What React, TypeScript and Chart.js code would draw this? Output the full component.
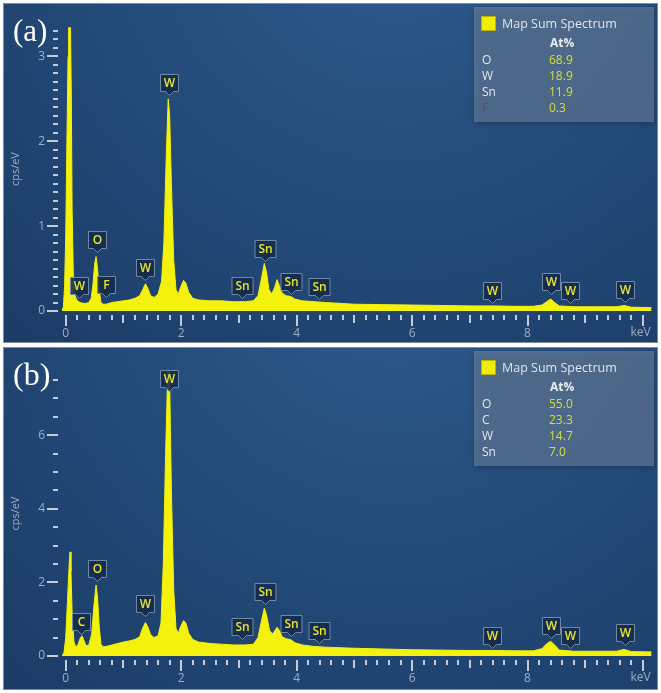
import React, { useEffect, useRef } from 'react';
import { Chart, registerables } from 'chart.js';

Chart.register(...registerables);

// ---------- data ----------
const energyA = [-0.065, -0.04, -0.02, 0.0, 0.02, 0.04, 0.05, 0.08, 0.095, 0.11, 0.13, 0.16, 0.2, 0.25, 0.3, 0.35, 0.4, 0.44, 0.47, 0.5, 0.525, 0.55, 0.58, 0.61, 0.65, 0.7, 0.8, 0.9, 1.0, 1.1, 1.2, 1.28, 1.34, 1.38, 1.42, 1.47, 1.53, 1.6, 1.66, 1.7, 1.74, 1.775, 1.8, 1.83, 1.87, 1.91, 1.95, 1.99, 2.04, 2.08, 2.13, 2.2, 2.3, 2.5, 2.7, 2.9, 3.1, 3.25, 3.33, 3.39, 3.44, 3.48, 3.52, 3.57, 3.62, 3.66, 3.7, 3.75, 3.82, 3.9, 3.97, 4.1, 4.3, 4.5, 5.0, 5.5, 6.0, 6.5, 7.0, 7.4, 7.8, 8.1, 8.25, 8.33, 8.4, 8.47, 8.55, 8.8, 9.2, 9.55, 9.67, 9.8, 10.15];
const countsA = [0, 0.05, 0.3, 0.9, 2.0, 3.0, 3.5, 3.5, 2.6, 1.2, 0.45, 0.18, 0.12, 0.1, 0.09, 0.09, 0.1, 0.15, 0.3, 0.55, 0.64, 0.5, 0.25, 0.1, 0.08, 0.08, 0.1, 0.11, 0.12, 0.13, 0.15, 0.18, 0.26, 0.32, 0.27, 0.18, 0.16, 0.2, 0.35, 0.8, 1.8, 2.5, 2.3, 1.5, 0.6, 0.25, 0.2, 0.28, 0.36, 0.33, 0.22, 0.15, 0.13, 0.12, 0.12, 0.11, 0.11, 0.12, 0.18, 0.38, 0.56, 0.45, 0.25, 0.2, 0.28, 0.37, 0.3, 0.21, 0.18, 0.17, 0.14, 0.12, 0.11, 0.1, 0.08, 0.075, 0.07, 0.065, 0.06, 0.06, 0.055, 0.055, 0.07, 0.11, 0.14, 0.1, 0.06, 0.05, 0.05, 0.05, 0.065, 0.045, 0.04];

const energyB = [-0.065, -0.03, 0.0, 0.03, 0.06, 0.075, 0.09, 0.11, 0.14, 0.17, 0.21, 0.25, 0.28, 0.31, 0.35, 0.4, 0.45, 0.49, 0.525, 0.55, 0.58, 0.61, 0.65, 0.7, 0.8, 0.9, 1.0, 1.1, 1.2, 1.28, 1.33, 1.38, 1.42, 1.47, 1.53, 1.6, 1.65, 1.69, 1.73, 1.775, 1.8, 1.83, 1.87, 1.91, 1.95, 1.99, 2.04, 2.08, 2.13, 2.2, 2.3, 2.5, 2.7, 2.9, 3.1, 3.25, 3.33, 3.39, 3.44, 3.48, 3.53, 3.58, 3.62, 3.66, 3.7, 3.75, 3.82, 3.9, 3.97, 4.1, 4.3, 4.5, 5.0, 5.5, 6.0, 6.5, 7.0, 7.4, 7.8, 8.1, 8.25, 8.33, 8.4, 8.47, 8.55, 8.8, 9.2, 9.55, 9.67, 9.8, 10.15];
const countsB = [0, 0.1, 0.5, 1.5, 2.5, 2.83, 2.3, 1.2, 0.4, 0.25, 0.3, 0.48, 0.55, 0.45, 0.28, 0.3, 0.6, 1.4, 1.93, 1.6, 0.8, 0.32, 0.25, 0.26, 0.3, 0.34, 0.38, 0.41, 0.45, 0.52, 0.75, 0.91, 0.8, 0.58, 0.5, 0.55, 0.9, 2.5, 5.5, 8.2, 7.5, 4.5, 1.8, 0.75, 0.62, 0.8, 0.96, 0.9, 0.62, 0.45, 0.38, 0.34, 0.32, 0.3, 0.3, 0.32, 0.5, 0.95, 1.3, 1.1, 0.7, 0.6, 0.68, 0.78, 0.7, 0.52, 0.47, 0.44, 0.36, 0.3, 0.26, 0.24, 0.21, 0.19, 0.17, 0.16, 0.15, 0.15, 0.14, 0.14, 0.2, 0.33, 0.4, 0.3, 0.16, 0.13, 0.13, 0.13, 0.18, 0.12, 0.11];

const markerElemA = ['W', 'O', 'F', 'W', 'W', 'Sn', 'Sn', 'Sn', 'Sn', 'W', 'W', 'W', 'W'];
const markerEnergyA = [0.23, 0.536, 0.7, 1.377, 1.789, 3.06, 3.46, 3.91, 4.38, 7.39, 8.41, 8.73, 9.69];
const markerTipA = [0.15, 0.69, 0.16, 0.37, 2.55, 0.15, 0.59, 0.2, 0.14, 0.1, 0.2, 0.1, 0.11];

const markerElemB = ['C', 'O', 'W', 'W', 'Sn', 'Sn', 'Sn', 'Sn', 'W', 'W', 'W', 'W'];
const markerEnergyB = [0.27, 0.536, 1.377, 1.789, 3.06, 3.46, 3.91, 4.38, 7.39, 8.41, 8.73, 9.69];
const markerTipB = [0.6, 2.04, 1.08, 7.2, 0.45, 1.41, 0.53, 0.35, 0.23, 0.48, 0.23, 0.3];

const legendElemA = ['O', 'W', 'Sn', 'F'];
const legendAtA = ['68.9', '18.9', '11.9', '0.3'];
const legendRedA = [false, false, false, true];
const legendElemB = ['O', 'C', 'W', 'Sn'];
const legendAtB = ['55.0', '23.3', '14.7', '7.0'];
const legendRedB = [false, false, false, false];

const xTickLabels = ['0', '2', '4', '6', '8'];
const yTickLabelsA = ['0', '1', '2', '3'];
const yTickLabelsB = ['0', '2', '4', '6'];

// ---------- style ----------
const X_MIN = -0.065;
const X_MAX = 10.15;
const YELLOW = '#f4f10c';
const FONT = '"Open Sans", "Noto Sans", sans-serif';
const LABEL_COLOR = '#9fadc0';
const TICK_COLOR = '#c3ccd8';

type PanelProps = {
  top: number;
  height: number;
  chartBottom: number;
  energies: number[];
  counts: number[];
  yMax: number;
  yStep: number;
  yMajor: number;
  yLabels: string[];
  markerElem: string[];
  markerEnergy: number[];
  markerTip: number[];
  legendElem: string[];
  legendAt: string[];
  legendRed: boolean[];
  tag: string;
  tagSize: number;
};

const isMult = (v: number, m: number) => Math.abs(v / m - Math.round(v / m)) < 1e-6;

function Panel(p: PanelProps) {
  const ref = useRef<HTMLCanvasElement>(null);
  const W = 655;

  useEffect(() => {
    const canvas = ref.current!;
    const data = p.energies.map((e, i) => ({ x: e, y: p.counts[i] }));

    const bgPlugin = {
      id: 'bg',
      beforeDraw(chart: any) {
        const { ctx, width, height } = chart;
        ctx.save();
        const g = ctx.createRadialGradient(width * 0.6, -height * 0.25, 0, width * 0.6, -height * 0.25, width * 0.95);
        g.addColorStop(0, '#2e5b8b');
        g.addColorStop(0.5, '#234a78');
        g.addColorStop(1, '#1a3963');
        ctx.fillStyle = g;
        ctx.fillRect(0, 0, width, height);
        ctx.restore();
      },
    };

    const tickPlugin = {
      id: 'tickmarks',
      afterDraw(chart: any) {
        const { ctx, chartArea } = chart;
        const xs = chart.scales.x;
        const ys = chart.scales.y;
        ctx.save();
        ctx.strokeStyle = TICK_COLOR;
        ctx.lineWidth = 2;
        xs.ticks.forEach((t: any) => {
          const v = t.value;
          const len = isMult(v, 2) ? 11 : isMult(v, 1) ? 8 : 5;
          const x = Math.round(xs.getPixelForValue(v));
          ctx.beginPath();
          ctx.moveTo(x, chartArea.bottom + 4);
          ctx.lineTo(x, chartArea.bottom + 4 + len);
          ctx.stroke();
        });
        ys.ticks.forEach((t: any) => {
          const v = t.value;
          const len = isMult(v, p.yMajor) ? 11 : 5;
          const y = Math.round(ys.getPixelForValue(v));
          ctx.beginPath();
          ctx.moveTo(chartArea.left - 4, y);
          ctx.lineTo(chartArea.left - 4 - len, y);
          ctx.stroke();
        });
        // keV unit label
        ctx.fillStyle = LABEL_COLOR;
        ctx.font = `12px ${FONT}`;
        ctx.textAlign = 'right';
        ctx.textBaseline = 'middle';
        ctx.fillText('keV', chartArea.right - 1, chartArea.bottom + 22);
        ctx.restore();
      },
    };

    const overlayPlugin = {
      id: 'overlay',
      afterDraw(chart: any) {
        const { ctx } = chart;
        const xs = chart.scales.x;
        const ys = chart.scales.y;
        ctx.save();
        // element markers
        p.markerElem.forEach((el, i) => {
          const cx = Math.round(xs.getPixelForValue(p.markerEnergy[i])) + 0.5;
          const tip = Math.round(ys.getPixelForValue(p.markerTip[i])) + 0.5;
          const w = el.length > 1 ? 21 : 18;
          const h = 17;
          const ph = 4;
          const bottom = tip - ph;
          const top = bottom - h;
          const l = cx - w / 2;
          const r = cx + w / 2;
          ctx.beginPath();
          ctx.moveTo(l, top);
          ctx.lineTo(r, top);
          ctx.lineTo(r, bottom);
          ctx.lineTo(cx + 4, bottom);
          ctx.lineTo(cx, tip);
          ctx.lineTo(cx - 4, bottom);
          ctx.lineTo(l, bottom);
          ctx.closePath();
          ctx.fillStyle = 'rgba(20,42,74,0.88)';
          ctx.fill();
          ctx.strokeStyle = '#7289a6';
          ctx.lineWidth = 1;
          ctx.stroke();
          ctx.fillStyle = '#e8e62a';
          ctx.font = `600 12px ${FONT}`;
          ctx.textAlign = 'center';
          ctx.textBaseline = 'middle';
          ctx.fillText(el, cx, top + h / 2 + 1);
        });

        // legend box
        const bx = 471;
        const by = 4;
        ctx.save();
        ctx.shadowColor = 'rgba(0,0,0,0.35)';
        ctx.shadowBlur = 6;
        ctx.shadowOffsetX = 1;
        ctx.shadowOffsetY = 2;
        ctx.fillStyle = 'rgba(110,134,163,0.58)';
        ctx.fillRect(bx, by, 180, 115);
        ctx.restore();
        ctx.fillStyle = '#f2ee00';
        ctx.fillRect(bx + 7, by + 9, 15, 15);
        ctx.strokeStyle = '#b9b400';
        ctx.lineWidth = 1;
        ctx.strokeRect(bx + 7.5, by + 9.5, 14, 14);
        ctx.textBaseline = 'middle';
        ctx.textAlign = 'left';
        ctx.fillStyle = '#dfe5ee';
        ctx.font = `12.5px ${FONT}`;
        ctx.fillText('Map Sum Spectrum', bx + 28, by + 17);
        ctx.font = `bold 12px ${FONT}`;
        ctx.fillStyle = '#e9eef5';
        ctx.fillText('At%', bx + 76, by + 37);
        ctx.font = `12px ${FONT}`;
        p.legendElem.forEach((el, i) => {
          const y = by + 54 + i * 16;
          ctx.fillStyle = p.legendRed[i] ? '#e8122f' : '#e2e7ef';
          ctx.fillText(el, bx + 8, y);
          ctx.fillStyle = '#d6df3c';
          ctx.fillText(p.legendAt[i], bx + 75, y);
        });

        // panel tag
        ctx.fillStyle = '#ffffff';
        ctx.font = `${p.tagSize}px "Liberation Serif", "DejaVu Serif", serif`;
        ctx.textAlign = 'left';
        ctx.textBaseline = 'alphabetic';
        ctx.fillText(p.tag, 10, 38);

        // frame
        ctx.strokeStyle = '#7f8c9c';
        ctx.lineWidth = 1;
        ctx.strokeRect(0.5, 0.5, chart.width - 1, chart.height - 1);
        ctx.restore();
      },
    };

    const chart = new Chart(canvas, {
      type: 'line',
      data: {
        datasets: [
          {
            data,
            borderColor: YELLOW,
            backgroundColor: YELLOW,
            borderWidth: 1,
            pointRadius: 0,
            fill: 'origin',
            tension: 0,
            clip: 0,
          } as any,
        ],
      },
      options: {
        animation: false,
        responsive: false,
        maintainAspectRatio: false,
        events: [],
        layout: { padding: { top: 2, right: 1, left: 0, bottom: 0 } },
        plugins: {
          legend: { display: false },
          tooltip: { enabled: false },
        },
        scales: {
          x: {
            type: 'linear',
            min: X_MIN,
            max: X_MAX,
            border: { display: false },
            grid: { display: false, drawTicks: false },
            ticks: {
              stepSize: 0.2,
              autoSkip: false,
              maxRotation: 0,
              minRotation: 0,
              includeBounds: false,
              padding: 15,
              color: LABEL_COLOR,
              font: { family: FONT, size: 12 },
              callback: (v: any) => {
                const n = Number(v);
                const s = String(Math.round(n));
                return isMult(n, 1) && xTickLabels.includes(s) ? s : '';
              },
            },
            afterFit: (s: any) => {
              s.height = p.height - p.chartBottom;
            },
          },
          y: {
            type: 'linear',
            min: 0,
            max: p.yMax,
            border: { display: false },
            grid: { display: false, drawTicks: false },
            title: {
              display: true,
              text: 'cps/eV',
              color: LABEL_COLOR,
              font: { family: FONT, size: 11 },
              padding: { top: 6, bottom: 0 },
            },
            ticks: {
              stepSize: p.yStep,
              autoSkip: false,
              includeBounds: false,
              padding: 17,
              color: LABEL_COLOR,
              font: { family: FONT, size: 12 },
              callback: (v: any) => {
                const n = Number(v);
                if (!isMult(n, p.yMajor)) return '';
                const s = String(Math.round(n));
                return p.yLabels.includes(s) ? s : '';
              },
            },
            afterFit: (s: any) => {
              s.width = 59;
            },
          },
        },
      } as any,
      plugins: [bgPlugin, tickPlugin, overlayPlugin],
    });
    return () => chart.destroy();
  }, []);

  return (
    <canvas
      ref={ref}
      width={W}
      height={p.height}
      style={{ position: 'absolute', left: 3, top: p.top, width: W, height: p.height, display: 'block' }}
    />
  );
}

export default function App() {
  return (
    <div style={{ position: 'absolute', left: 0, top: 0, width: 661, height: 693, background: '#ffffff', overflow: 'hidden' }}>
      <Panel
        top={3}
        height={340}
        chartBottom={308}
        energies={energyA}
        counts={countsA}
        yMax={3.344}
        yStep={0.1}
        yMajor={1}
        yLabels={yTickLabelsA}
        markerElem={markerElemA}
        markerEnergy={markerEnergyA}
        markerTip={markerTipA}
        legendElem={legendElemA}
        legendAt={legendAtA}
        legendRed={legendRedA}
        tag="(a)"
        tagSize={31}
      />
      <Panel
        top={347}
        height={343}
        chartBottom={309}
        energies={energyB}
        counts={countsB}
        yMax={7.74}
        yStep={0.5}
        yMajor={2}
        yLabels={yTickLabelsB}
        markerElem={markerElemB}
        markerEnergy={markerEnergyB}
        markerTip={markerTipB}
        legendElem={legendElemB}
        legendAt={legendAtB}
        legendRed={legendRedB}
        tag="(b)"
        tagSize={32}
      />
    </div>
  );
}
